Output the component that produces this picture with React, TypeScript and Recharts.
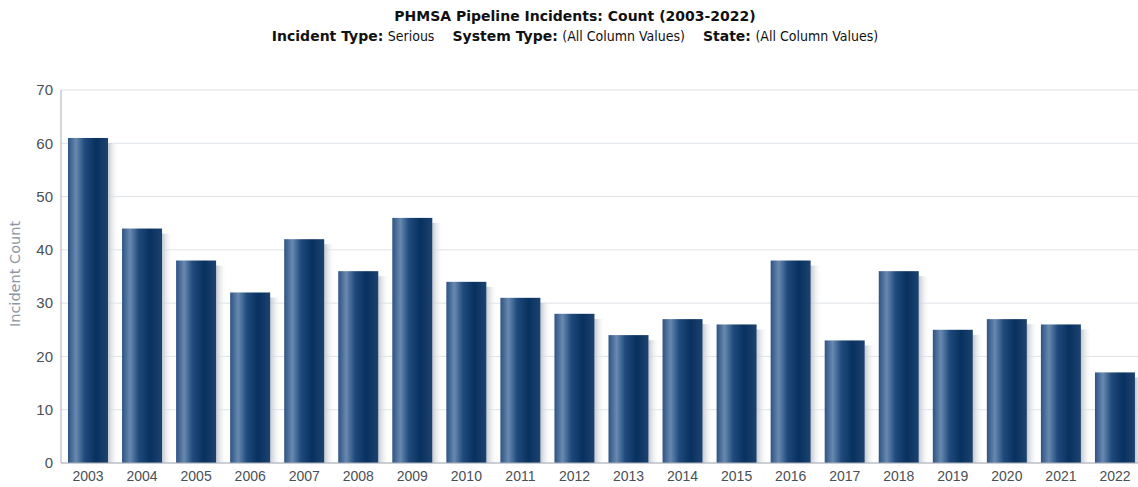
import { BarChart, Bar, XAxis, YAxis, CartesianGrid } from 'recharts'

const years = ['2003', '2004', '2005', '2006', '2007', '2008', '2009', '2010', '2011', '2012',
  '2013', '2014', '2015', '2016', '2017', '2018', '2019', '2020', '2021', '2022']
const counts = [61, 44, 38, 32, 42, 36, 46, 34, 31, 28, 24, 27, 26, 38, 23, 36, 25, 27, 26, 17]
const yTicks = [0, 10, 20, 30, 40, 50, 60, 70]

const data = years.map((year, i) => ({ year, count: counts[i] }))

const FONT = '"Liberation Sans", Tahoma, sans-serif'
const TITLE_FONT = '"DejaVu Sans", Tahoma, sans-serif'
const VALUE_FONT = '"DejaVu Sans Condensed", "DejaVu Sans", sans-serif'

// bar with a soft grey drop shadow on its right side
const ShadowBar = (props: any) => {
  const { x, y, width, height } = props
  if (!height || height <= 0) return null
  return (
    <g>
      <rect x={x + width} y={y + 5} width={11} height={height - 5} fill="url(#barShadow)" />
      <rect x={x} y={y} width={width} height={height} fill="url(#barFill)" />
    </g>
  )
}

export default function App() {
  return (
    <div style={{ position: 'absolute', left: 0, top: 0, width: 1138, height: 487, background: '#fff', fontFamily: FONT }}>
      <div style={{ position: 'absolute', top: 6, width: 1150, textAlign: 'center', fontSize: 14, color: '#111', lineHeight: '20px', fontFamily: TITLE_FONT }}>
        <div style={{ fontWeight: 'bold' }}>PHMSA Pipeline Incidents: Count (2003-2022)</div>
        <div>
          <b>Incident Type:</b> <span style={{ fontFamily: VALUE_FONT, marginRight: 18 }}>Serious</span>
          <b>System Type:</b> <span style={{ fontFamily: VALUE_FONT, marginRight: 18 }}>(All Column Values)</span>
          <b>State:</b> <span style={{ fontFamily: VALUE_FONT }}>(All Column Values)</span>
        </div>
      </div>
      <div style={{ position: 'absolute', left: 15, top: 274, transform: 'translate(-50%, -50%) rotate(-90deg)', fontSize: 14.5, color: '#8d96a3', whiteSpace: 'nowrap', fontFamily: TITLE_FONT }}>
        Incident Count
      </div>
      <BarChart width={1138} height={487} data={data} margin={{ top: 90, right: -4, bottom: 0, left: 0 }}>
        <defs>
          <linearGradient id="barFill" x1="0" y1="0" x2="1" y2="0">
            <stop offset="0%" stopColor="#2e5383" />
            <stop offset="20%" stopColor="#6889b0" />
            <stop offset="42%" stopColor="#1f4a7c" />
            <stop offset="70%" stopColor="#08315f" />
            <stop offset="100%" stopColor="#1d426f" />
          </linearGradient>
          <linearGradient id="barShadow" x1="0" y1="0" x2="1" y2="0">
            <stop offset="0%" stopColor="#c3c8cf" />
            <stop offset="100%" stopColor="#ffffff" stopOpacity={0} />
          </linearGradient>
        </defs>
        <CartesianGrid vertical={false} stroke="#dde1e6" />
        <XAxis
          dataKey="year"
          interval={0}
          height={24}
          tickLine={false}
          axisLine={{ stroke: '#a9aeb6' }}
          tick={{ fill: '#4a4f57', fontSize: 14, fontFamily: FONT }}
          tickMargin={2}
        />
        <YAxis
          width={61}
          domain={[0, 70]}
          ticks={yTicks}
          tickLine={false}
          axisLine={{ stroke: '#a9aeb6' }}
          tick={{ fill: '#4a4f57', fontSize: 15, fontFamily: FONT }}
          tickMargin={2}
        />
        <Bar dataKey="count" barSize={40} shape={<ShadowBar />} isAnimationActive={false} />
      </BarChart>
    </div>
  )
}
